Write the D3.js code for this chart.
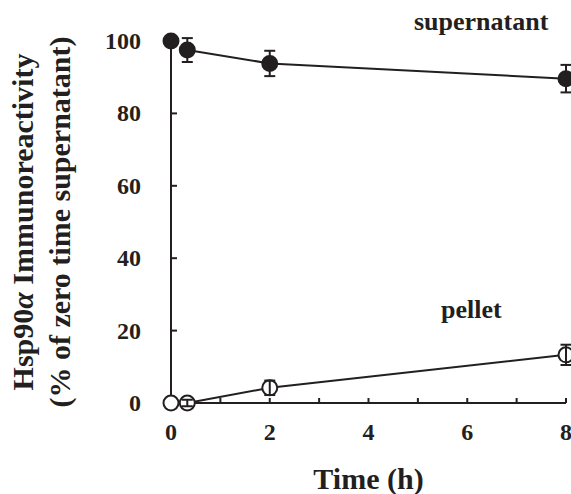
<!DOCTYPE html>
<html>
<head>
<meta charset="utf-8">
<script src="https://cdn.jsdelivr.net/npm/d3@7"></script>
<style>
  html, body { margin: 0; padding: 0; background: #fff; }
  svg { display: block; font-family: "Liberation Serif", "Times New Roman", serif; font-weight: bold; }
</style>
</head>
<body>
<div id="chart"></div>
<script>
const times = [0, 0.33, 2, 8];
const supernatant = [100, 97.5, 93.8, 89.6];
const supernatantErr = [0, 3.3, 3.5, 3.8];
const pellet = [0, 0, 4.2, 13.3];
const pelletErr = [0, 0.9, 2.0, 2.8];
const xTicks = [0, 2, 4, 6, 8];
const xMinorTicks = [1, 3, 5, 7];
const yTicks = [0, 20, 40, 60, 80, 100];

(() => {
  const width = 571, height = 494;
  const margin = { top: 41, right: 5, bottom: 91, left: 171 };
  const innerWidth = width - margin.left - margin.right;
  const innerHeight = height - margin.top - margin.bottom;
  const ink = "#231f20";

  const svg = d3.select("#chart").append("svg")
    .attr("width", width).attr("height", height);
  const g = svg.append("g").attr("transform", `translate(${margin.left},${margin.top})`);

  const x = d3.scaleLinear().domain([0, 8]).range([0, innerWidth]);
  const y = d3.scaleLinear().domain([0, 100]).range([innerHeight, 0]);

  // axes: ticks point inward, labels drawn separately
  g.append("line").attr("x1", 0).attr("x2", 0).attr("y1", y(0)).attr("y2", y(100))
    .attr("stroke", ink).attr("stroke-width", 2);
  g.append("line").attr("x1", x(0)).attr("x2", x(8)).attr("y1", y(0)).attr("y2", y(0))
    .attr("stroke", ink).attr("stroke-width", 2);

  g.selectAll(".ytick").data(yTicks.filter((d) => d > 0 && d < 100)).join("line")
    .attr("x1", 0).attr("x2", 6).attr("y1", (d) => y(d)).attr("y2", (d) => y(d))
    .attr("stroke", ink).attr("stroke-width", 2);
  g.selectAll(".xtick").data(xTicks.filter((d) => d > 0).concat(xMinorTicks)).join("line")
    .attr("x1", (d) => x(d)).attr("x2", (d) => x(d)).attr("y1", y(0)).attr("y2", y(0) - 5)
    .attr("stroke", ink).attr("stroke-width", 2);

  g.selectAll(".ylab").data(yTicks).join("text")
    .attr("x", -30).attr("y", (d) => y(d) + 8)
    .attr("text-anchor", "end").attr("font-size", 24).attr("fill", ink)
    .text((d) => d);
  g.selectAll(".xlab").data(xTicks).join("text")
    .attr("x", (d) => x(d)).attr("y", y(0) + 37)
    .attr("text-anchor", "middle").attr("font-size", 24).attr("fill", ink)
    .text((d) => d);

  const line = d3.line().x((d) => x(d.t)).y((d) => y(d.v));
  const series = [
    { vals: supernatant, err: supernatantErr, fill: ink },
    { vals: pellet, err: pelletErr, fill: "#fff" }
  ];

  series.forEach((s) => {
    const pts = times.map((t, i) => ({ t, v: s.vals[i], e: s.err[i] }));
    g.append("path").datum(pts.slice(1)).attr("d", line)
      .attr("fill", "none").attr("stroke", ink).attr("stroke-width", 2);
    g.selectAll(null).data(pts).join("circle")
      .attr("cx", (d) => x(d.t)).attr("cy", (d) => y(d.v)).attr("r", 7.5)
      .attr("fill", s.fill)
      .attr("stroke", ink).attr("stroke-width", 2);
    const eb = g.append("g");
    pts.filter((d) => d.e > 0).forEach((d) => {
      const cx = x(d.t), y1 = y(d.v + d.e), y2 = y(d.v - d.e);
      eb.append("line").attr("x1", cx).attr("x2", cx).attr("y1", y1).attr("y2", y2);
      eb.append("line").attr("x1", cx - 5.5).attr("x2", cx + 5.5).attr("y1", y1).attr("y2", y1);
      eb.append("line").attr("x1", cx - 5.5).attr("x2", cx + 5.5).attr("y1", y2).attr("y2", y2);
    });
    eb.selectAll("line").attr("stroke", ink).attr("stroke-width", 2);
  });

  svg.append("text").attr("x", 414).attr("y", 30).attr("font-size", 26).attr("fill", ink)
    .text("supernatant");
  svg.append("text").attr("x", 441).attr("y", 318).attr("font-size", 26).attr("fill", ink)
    .text("pellet");

  svg.append("text").attr("x", margin.left + innerWidth / 2).attr("y", 489)
    .attr("text-anchor", "middle").attr("font-size", 30).attr("fill", ink)
    .text("Time (h)");

  const yTitle = svg.append("text").attr("transform", "translate(0,222) rotate(-90)")
    .attr("text-anchor", "middle").attr("font-size", 30).attr("fill", ink);
  const l1 = yTitle.append("tspan").attr("x", 0).attr("y", 33);
  l1.append("tspan").text("Hsp90");
  l1.append("tspan").attr("font-style", "italic").text("α");
  l1.append("tspan").text(" Immunoreactivity");
  yTitle.append("tspan").attr("x", 0).attr("y", 70).text("(% of zero time supernatant)");
})();
</script>
</body>
</html>
